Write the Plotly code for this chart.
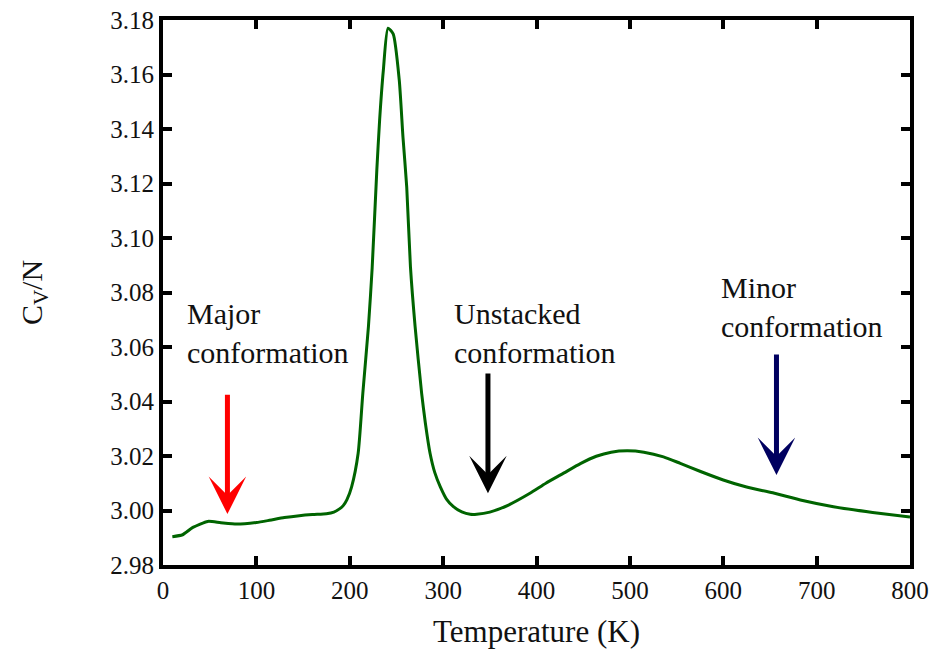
import plotly.graph_objects as go

# Data
temperature = [10, 21, 32, 48, 62, 79, 100, 114, 130, 146, 160, 175, 183, 189, 193, 197,
               202, 209, 214, 220, 224, 229, 232, 236, 241, 246.5, 253, 257, 261, 265,
               270, 277, 281, 286, 291, 297, 304, 311, 320, 329, 336, 350, 370, 393, 410,
               429, 447, 464, 480, 497, 515, 536, 554, 575, 600, 625, 653, 685, 718, 760, 800]
cv_per_n = [2.9904, 2.9911, 2.9938, 2.9960, 2.9955, 2.9950, 2.9956, 2.9964, 2.9974, 2.9981,
            2.9985, 2.9988, 2.9994, 3.0006, 3.0018, 3.0040, 3.0087, 3.0210, 3.0430,
            3.0675, 3.0890, 3.1250, 3.1433, 3.1616, 3.1770, 3.1749, 3.1580, 3.1370, 3.1188,
            3.0895, 3.0675, 3.0430, 3.0320, 3.0210, 3.0140, 3.0087, 3.0040, 3.0014, 2.9995,
            2.9986, 2.9986, 2.9994, 3.0020, 3.0063, 3.0100, 3.0137, 3.0172, 3.0199, 3.0214,
            3.0219, 3.0214, 3.0197, 3.0173, 3.0144, 3.0112, 3.0086, 3.0065, 3.0037, 3.0014,
            2.9993, 2.9976]

x_ticks = [0, 100, 200, 300, 400, 500, 600, 700, 800]
y_ticks = [2.98, 3.00, 3.02, 3.04, 3.06, 3.08, 3.10, 3.12, 3.14, 3.16, 3.18]

labels = ["Major<br>conformation", "Unstacked<br>conformation", "Minor<br>conformation"]
label_x = [24, 310, 595]
label_y = [3.079, 3.079, 3.0885]

arrow_x = [69, 348, 657]
arrow_tip = [2.9987, 3.0063, 3.013]
arrow_tail = [3.0432, 3.051, 3.058]
arrow_colors = ["#ff0000", "#000000", "#000060"]

FONT = "Liberation Serif"
TXT = "#111111"

fig = go.Figure()
fig.add_trace(go.Scatter(x=temperature, y=cv_per_n, mode="lines",
                         line=dict(color="#006400", width=3, shape="spline", smoothing=0.6),
                         showlegend=False))

for t, x, y in zip(labels, label_x, label_y):
    fig.add_annotation(x=x, y=y, xref="x", yref="y", text=t, showarrow=False,
                       xanchor="left", yanchor="top", align="left",
                       font=dict(family=FONT, size=30, color=TXT))

for x, tip, tail, c in zip(arrow_x, arrow_tip, arrow_tail, arrow_colors):
    fig.add_annotation(x=x, y=tip, ax=x, ay=tail, xref="x", yref="y",
                       axref="x", ayref="y", text=" ", showarrow=True,
                       arrowhead=3, arrowsize=1.25, arrowwidth=5, arrowcolor=c,
                       standoff=0, font=dict(size=1))

axis_common = dict(showline=True, linecolor="black", linewidth=4, mirror="allticks",
                   ticks="inside", ticklen=9, tickwidth=4, tickcolor="black",
                   showgrid=False, zeroline=False, automargin=False,
                   ticklabeloverflow="allow",
                   tickfont=dict(family=FONT, size=25, color=TXT))

fig.update_xaxes(range=[0, 800], tickvals=x_ticks, ticktext=[str(v) for v in x_ticks],
                 title=dict(text="Temperature (K)", font=dict(family=FONT, size=31, color=TXT),
                            standoff=18),
                 **axis_common)
fig.update_yaxes(range=[2.98, 3.18], tickvals=y_ticks, ticktext=[f"{v:.2f}" for v in y_ticks],
                 title=dict(text="C<sub>V</sub>/N", font=dict(family=FONT, size=30, color=TXT),
                            standoff=60),
                 **axis_common)

fig.update_layout(width=940, height=653, margin=dict(l=155, r=38, t=12, b=96),
                  plot_bgcolor="white", paper_bgcolor="white")

fig.write_html("out.html")
